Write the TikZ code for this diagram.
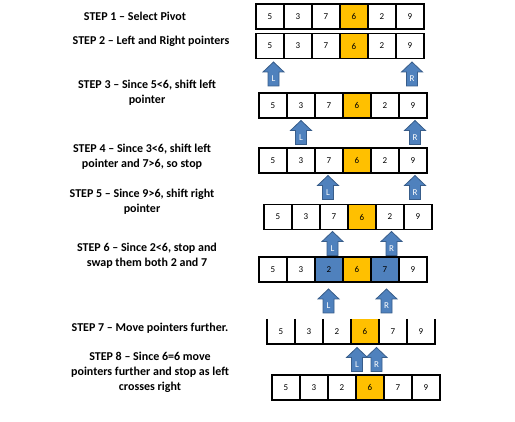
\documentclass[tikz,border=0pt]{standalone}
\usepackage{fontspec}
\setmainfont{Carlito}
\usetikzlibrary{positioning,chains}
\definecolor{pivotgold}{HTML}{FFC000}
\definecolor{ptrblue}{HTML}{4F81BD}
\definecolor{ptredge}{HTML}{385D8A}

\begin{document}
\begin{tikzpicture}[x=1pt,y=-1pt]
	\useasboundingbox (0,0) rectangle (515,422);
	\tikzset{cell/.style={draw,line width=1.2pt,minimum width=28pt,minimum height=25pt,inner sep=0pt,outer sep=0pt,font=\small},
		pivot/.style={cell,fill=pivotgold},
		swapped/.style={cell,fill=ptrblue},
		opencell/.style={cell,draw=none},
		opengold/.style={opencell,fill=pivotgold},
		steptext/.style={font=\bfseries\fontsize{12}{15}\selectfont,align=center},
		ptr/.pic={
			\path[fill=ptrblue,draw=ptredge,line width=0.8pt]
				(-5.5,12) -- (-5.5,-2) -- (-10.5,-2) -- (0,-12) -- (10.5,-2) -- (5.5,-2) -- (5.5,12) -- cycle;
			\node[text=white,font=\small,inner sep=0pt] (lbl) at (0,5) {#1};
		}}

	%% Step texts
	\node[steptext] (s1) at (135,16) {STEP 1 -- Select Pivot};
	\node[steptext] (s2) at (151,41) {STEP 2 -- Left and Right pointers};
	\node[steptext] (s3) at (147,92.5) {STEP 3 -- Since 5<6, shift left\\pointer};
	\node[steptext] (s4) at (142,157) {STEP 4 -- Since 3<6, shift left\\pointer and 7>6, so stop};
	\node[steptext] (s5) at (142,201.5) {STEP 5 -- Since 9>6, shift right\\pointer};
	\node[steptext] (s6) at (147,256) {STEP 6 -- Since 2<6, stop and\\swap them both 2 and 7};
	\node[steptext] (s7) at (150,328) {STEP 7 -- Move pointers further.};
	\node[steptext] (s8) at (150,372) {STEP 8 -- Since 6=6 move\\pointers further and stop as left\\crosses right};

	%% Arrays
	\begin{scope}[shift={(270,16.5)},start chain=r1 going right,node distance=0pt]
		\foreach \v/\s in {5/cell,3/cell,7/cell,6/pivot,2/cell,9/cell}
			\node[on chain=r1,\s] {\v};
	\end{scope}
	\begin{scope}[shift={(270,46)},start chain=r2 going right,node distance=0pt]
		\foreach \v/\s in {5/cell,3/cell,7/cell,6/pivot,2/cell,9/cell}
			\node[on chain=r2,\s] {\v};
	\end{scope}
	\begin{scope}[shift={(273,105.5)},start chain=r3 going right,node distance=0pt]
		\foreach \v/\s in {5/cell,3/cell,7/cell,6/pivot,2/cell,9/cell}
			\node[on chain=r3,\s] {\v};
	\end{scope}
	\begin{scope}[shift={(273,160.5)},start chain=r4 going right,node distance=0pt]
		\foreach \v/\s in {5/cell,3/cell,7/cell,6/pivot,2/cell,9/cell}
			\node[on chain=r4,\s] {\v};
	\end{scope}
	\begin{scope}[shift={(278,217)},start chain=r5 going right,node distance=0pt]
		\foreach \v/\s in {5/cell,3/cell,7/cell,6/pivot,2/cell,9/cell}
			\node[on chain=r5,\s] {\v};
	\end{scope}
	\begin{scope}[shift={(273,269.5)},start chain=r6 going right,node distance=0pt]
		\foreach \v/\s in {5/cell,3/cell,2/swapped,6/pivot,7/swapped,9/cell}
			\node[on chain=r6,\s] {\v};
	\end{scope}
	\begin{scope}[shift={(281,331.5)},start chain=r7 going right,node distance=0pt]
		\foreach \v/\s in {5/opencell,3/opencell,2/opencell,6/opengold,7/opencell,9/opencell}
			\node[on chain=r7,\s] {\v};
	\end{scope}
	% row 7 is open at the top
	\draw[line width=1.2pt] (r7-1.north west) -- (r7-1.south west) -- (r7-6.south east) -- (r7-6.north east);
	\foreach \i in {1,...,5}
		\draw[line width=1.2pt] (r7-\i.north east) -- (r7-\i.south east);
	\begin{scope}[shift={(286,387.5)},start chain=r8 going right,node distance=0pt]
		\foreach \v/\s in {5/cell,3/cell,2/cell,6/pivot,7/cell,9/cell}
			\node[on chain=r8,\s] {\v};
	\end{scope}

	%% Pointers
	\pic (l2) at (273.5,74) {ptr=L};
	\pic (r2) at (412,74) {ptr=R};
	\pic (l3) at (301,132.5) {ptr=L};
	\pic (r3) at (415,132.5) {ptr=R};
	\pic (l4) at (328,187.5) {ptr=L};
	\pic (r4) at (415,187.5) {ptr=R};
	\pic (l5) at (332.5,243.5) {ptr=L};
	\pic (r5) at (391.5,243.5) {ptr=R};
	\pic (l6) at (328.5,301) {ptr=L};
	\pic (r6) at (386.5,301) {ptr=R};
	\pic (l7) at (357,359.5) {ptr=L};
	\pic (r7) at (376.5,359.5) {ptr=R};
\end{tikzpicture}
\end{document}
